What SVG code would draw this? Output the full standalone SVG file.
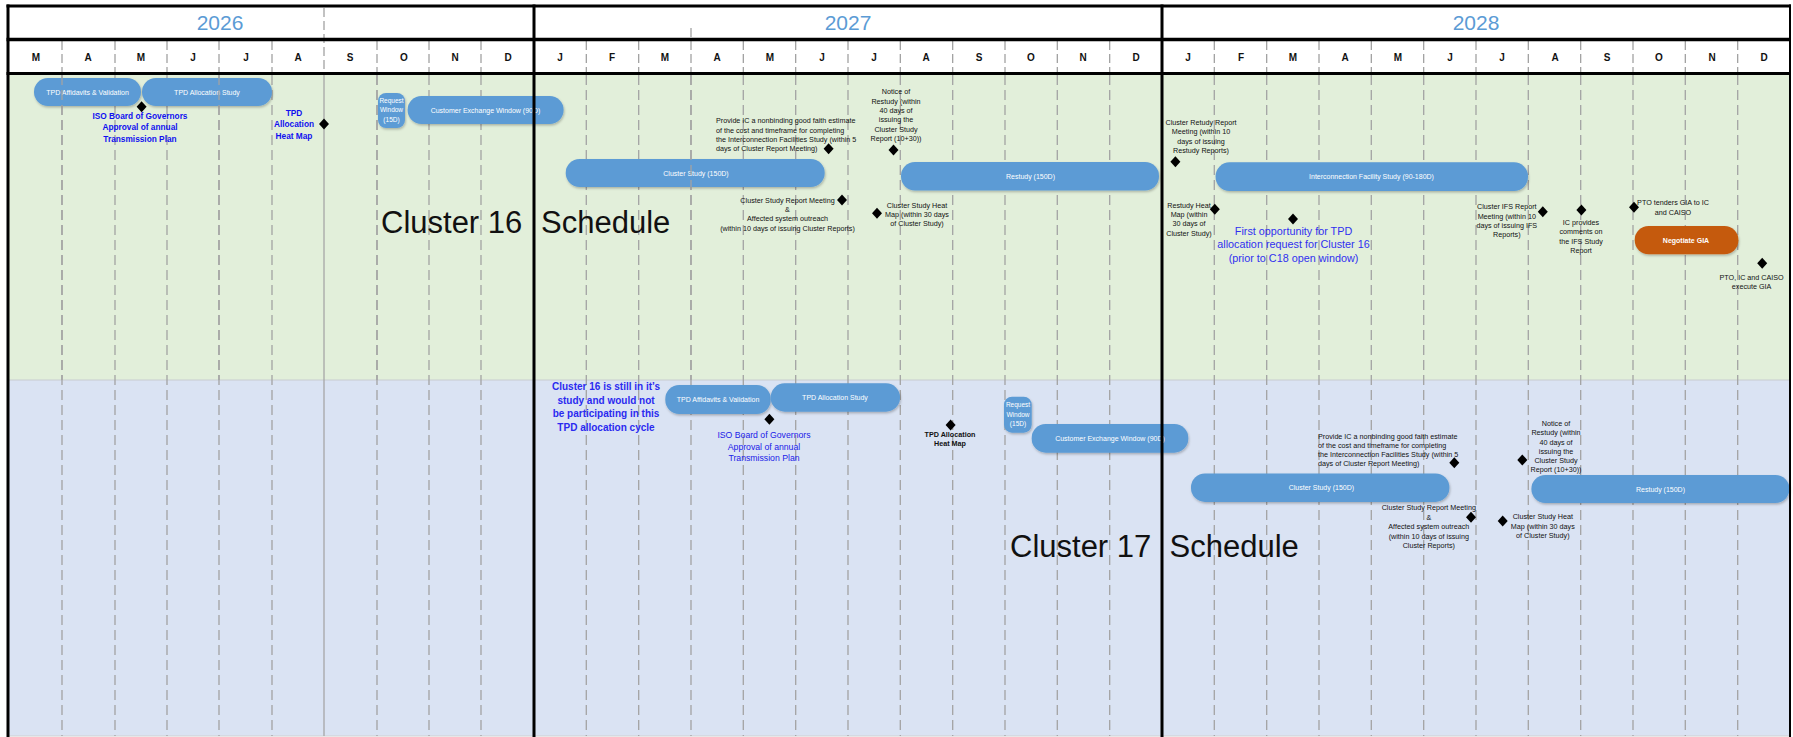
<svg xmlns="http://www.w3.org/2000/svg" xmlns:xlink="http://www.w3.org/1999/xlink" width="1793" height="737" viewBox="0 0 1793 737">
<style>
.yr{font-family:"Liberation Sans",Arial,sans-serif;font-size:21px;fill:#5B9BD5;text-anchor:middle}
.mo{font-family:"Liberation Sans",Arial,sans-serif;font-size:10px;font-weight:bold;fill:#111;text-anchor:middle}
.bar{fill:#5B9BD5;filter:url(#sh)}
.neg{fill:#C55A11;filter:url(#sh)}
.bt{font-family:"Liberation Sans",Arial,sans-serif;font-size:7px;fill:#fff;text-anchor:middle}
.bs{font-family:"Liberation Sans",Arial,sans-serif;font-size:6.5px;fill:#fff;text-anchor:middle}
.nb{font-family:"Liberation Sans",Arial,sans-serif;font-size:7px;font-weight:bold;fill:#fff;text-anchor:middle}
.an{font-family:"Liberation Sans",Arial,sans-serif;font-size:7.2px;fill:#111;text-anchor:middle}
.al{font-family:"Liberation Sans",Arial,sans-serif;font-size:7.2px;fill:#111}
.bb{font-family:"Liberation Sans",Arial,sans-serif;font-size:8.3px;font-weight:bold;fill:#1010F0;text-anchor:middle}
.br{font-family:"Liberation Sans",Arial,sans-serif;font-size:8.7px;fill:#2020E8;text-anchor:middle}
.bf{font-family:"Liberation Sans",Arial,sans-serif;font-size:10.8px;fill:#3030F0;text-anchor:middle}
.bc{font-family:"Liberation Sans",Arial,sans-serif;font-size:10px;font-weight:bold;fill:#2A2AF0;text-anchor:middle}
.big{font-family:"Liberation Sans",Arial,sans-serif;font-size:31px;fill:#111}
.g{stroke:#A3A3A3;stroke-width:1.3;stroke-dasharray:10 5;fill:none}
.gm{stroke:#9A9A9A;stroke-width:1.2;stroke-dasharray:9 4;fill:none}
.k{stroke:#000;fill:none}
</style>
<defs>
<filter id="sh" x="-10%" y="-30%" width="120%" height="170%">
<feDropShadow dx="0.8" dy="1.5" stdDeviation="1.2" flood-color="#000" flood-opacity="0.25"/>
</filter>
<path id="dia" d="M0,-5.5 L5,0 L0,5.5 L-5,0 Z" fill="#000"/>
</defs>

<g id="background">
<rect x="0" y="0" width="1793" height="737" fill="#fff"/>
<rect x="8" y="74" width="1782" height="306" fill="#E2EFDA"/>
<rect x="8" y="380" width="1782" height="356" fill="#DAE3F3"/>
<line x1="8" y1="380" x2="1790" y2="380" stroke="#C8CCD0" stroke-width="1"/>
<line x1="8" y1="736" x2="1790" y2="736" stroke="#D0D0D0" stroke-width="1"/>
</g>

<g id="grid">
<g class="gm">
<path d="M62,41V72M115,41V72M167,41V72M219,41V72M272,41V72M324,8V72M377,41V72M429,41V72M481,41V72"/>
<path d="M586.3,41V72M638.7,41V72M691,28V72M743.3,41V72M795.7,41V72M848,41V72M900.3,41V72M952.7,41V72M1005,41V72M1057.3,41V72M1109.7,41V72"/>
<path d="M1214.3,41V72M1266.7,41V72M1319,41V72M1371.3,41V72M1423.7,41V72M1476,41V72M1528.3,41V72M1580.7,41V72M1633,41V72M1685.3,41V72M1737.7,41V72"/>
</g>
<g class="g">
<path d="M62,75V736M115,75V736M167,75V736M219,75V736M272,75V736M377,75V736M429,75V736M481,75V736"/>
<path d="M586.3,75V736M638.7,75V736M691,75V736M743.3,75V736M795.7,75V736M848,75V736M900.3,75V736M952.7,75V736M1005,75V736M1057.3,75V736M1109.7,75V736"/>
<path d="M1214.3,75V736M1266.7,75V736M1319,75V736M1371.3,75V736M1423.7,75V736M1476,75V736M1528.3,75V736M1580.7,75V736M1633,75V736M1685.3,75V736M1737.7,75V736"/>
</g>
<line x1="324" y1="75" x2="324" y2="736" stroke="#A6A6A6" stroke-width="1.3"/>
</g>

<g id="header">
<text class="yr" x="220" y="30">2026</text>
<text class="yr" x="848" y="30">2027</text>
<text class="yr" x="1476" y="30">2028</text>
<g class="mo">
<text x="36" y="60.7">M</text><text x="88" y="60.7">A</text><text x="141" y="60.7">M</text><text x="193" y="60.7">J</text><text x="246" y="60.7">J</text><text x="298" y="60.7">A</text><text x="350" y="60.7">S</text><text x="404" y="60.7">O</text><text x="455" y="60.7">N</text><text x="508" y="60.7">D</text>
<text x="560" y="60.7">J</text><text x="612" y="60.7">F</text><text x="665" y="60.7">M</text><text x="717" y="60.7">A</text><text x="770" y="60.7">M</text><text x="822" y="60.7">J</text><text x="874" y="60.7">J</text><text x="926" y="60.7">A</text><text x="979" y="60.7">S</text><text x="1031" y="60.7">O</text><text x="1083" y="60.7">N</text><text x="1136" y="60.7">D</text>
<text x="1188" y="60.7">J</text><text x="1241" y="60.7">F</text><text x="1293" y="60.7">M</text><text x="1345" y="60.7">A</text><text x="1398" y="60.7">M</text><text x="1450" y="60.7">J</text><text x="1502" y="60.7">J</text><text x="1555" y="60.7">A</text><text x="1607" y="60.7">S</text><text x="1659" y="60.7">O</text><text x="1712" y="60.7">N</text><text x="1764" y="60.7">D</text>
</g>
</g>

<g id="connectors"></g>

<!-- Cluster 16 -->
<g id="c16-title"><text class="big" x="381" y="233">Cluster 16</text><text class="big" x="541" y="233">Schedule</text></g>
<g id="c16-tpd-affidavits"><rect class="bar" x="34" y="78" width="107" height="28" rx="14"/><text class="bt" x="87.5" y="94.5">TPD Affidavits &amp; Validation</text></g>
<g id="c16-tpd-allocation-study"><rect class="bar" x="142" y="78" width="130" height="28" rx="14"/><text class="bt" x="207" y="94.5">TPD Allocation Study</text></g>
<g id="c16-request-window"><rect class="bar" x="378" y="93" width="27" height="35" rx="8"/><text class="bs" x="391.5" y="103"><tspan x="391.5">Request</tspan><tspan x="391.5" dy="9.3">Window</tspan><tspan x="391.5" dy="9.3">(15D)</tspan></text></g>
<g id="c16-customer-exchange"><rect class="bar" x="407.6" y="96" width="156" height="28" rx="14"/><text class="bt" x="485.5" y="112.5">Customer Exchange Window (90D)</text></g>
<g id="c16-cluster-study"><rect class="bar" x="565.7" y="159" width="259" height="28" rx="14"/><text class="bt" x="696" y="175.5">Cluster Study (150D)</text></g>
<g id="c16-restudy"><rect class="bar" x="901" y="162" width="258" height="28.5" rx="14"/><text class="bt" x="1030.5" y="178.5">Restudy (150D)</text></g>
<g id="c16-ifs"><rect class="bar" x="1215.6" y="162.3" width="312.4" height="28.7" rx="14"/><text class="bt" x="1371.5" y="179.2">Interconnection Facility Study (90-180D)</text></g>
<g id="c16-negotiate-gia"><rect class="neg" x="1634.7" y="226" width="103.7" height="28.3" rx="14"/><text class="nb" x="1686" y="242.6">Negotiate GIA</text></g>

<g id="c16-iso-board"><use xlink:href="#dia" x="141.6" y="106.7"/><text class="bb" x="140" y="118.7"><tspan x="140">ISO Board of Governors</tspan><tspan x="140" dy="11.6">Approval of annual</tspan><tspan x="140" dy="11.6">Transmission Plan</tspan></text></g>
<g id="c16-tpd-heat-map"><use xlink:href="#dia" x="324" y="124"/><text class="bb" x="294" y="115.7"><tspan x="294">TPD</tspan><tspan x="294" dy="11.6">Allocation</tspan><tspan x="294" dy="11.6">Heat Map</tspan></text></g>
<g id="c16-provide-ic"><use xlink:href="#dia" x="828.6" y="148.7"/><text class="al" x="716" y="123.3"><tspan x="716">Provide IC a nonbinding good faith estimate</tspan><tspan x="716" dy="9.33">of the cost and timeframe for completing</tspan><tspan x="716" dy="9.33">the Interconnection Facilities Study (within 5</tspan><tspan x="716" dy="9.33">days of Cluster Report Meeting)</tspan></text></g>
<g id="c16-notice-restudy"><use xlink:href="#dia" x="893.5" y="150"/><text class="an" x="896" y="94.3"><tspan x="896">Notice of</tspan><tspan x="896" dy="9.33">Restudy (within</tspan><tspan x="896" dy="9.33">40 days of</tspan><tspan x="896" dy="9.33">issuing the</tspan><tspan x="896" dy="9.33">Cluster Study</tspan><tspan x="896" dy="9.33">Report (10+30))</tspan></text></g>
<g id="c16-report-meeting"><use xlink:href="#dia" x="842" y="200"/><text class="an" x="787.5" y="202.6"><tspan x="787.5">Cluster Study Report Meeting</tspan><tspan x="787.5" dy="9.33">&amp;</tspan><tspan x="787.5" dy="9.33">Affected system outreach</tspan><tspan x="787.5" dy="9.33">(within 10 days of issuing Cluster Reports)</tspan></text></g>
<g id="c16-study-heat-map"><use xlink:href="#dia" x="877" y="213.3"/><text class="an" x="917" y="207.6"><tspan x="917">Cluster Study Heat</tspan><tspan x="917" dy="9.33">Map (within 30 days</tspan><tspan x="917" dy="9.33">of Cluster Study)</tspan></text></g>
<g id="c16-restudy-meeting"><use xlink:href="#dia" x="1175.4" y="161.7"/><text class="an" x="1201" y="124.9"><tspan x="1201">Cluster Retudy Report</tspan><tspan x="1201" dy="9.33">Meeting (within 10</tspan><tspan x="1201" dy="9.33">days of issuing</tspan><tspan x="1201" dy="9.33">Restudy Reports)</tspan></text></g>
<g id="c16-restudy-heat-map"><use xlink:href="#dia" x="1214.8" y="209.3"/><text class="an" x="1189" y="207.6"><tspan x="1189">Restudy Heat</tspan><tspan x="1189" dy="9.33">Map (within</tspan><tspan x="1189" dy="9.33">30 days of</tspan><tspan x="1189" dy="9.33">Cluster Study)</tspan></text></g>
<g id="c16-first-opportunity"><use xlink:href="#dia" x="1293" y="219"/><text class="bf" x="1293.5" y="234.5"><tspan x="1293.5">First opportunity for TPD</tspan><tspan x="1293.5" dy="13.5">allocation request for Cluster 16</tspan><tspan x="1293.5" dy="13.5">(prior to C18 open window)</tspan></text></g>
<g id="c16-ifs-meeting"><use xlink:href="#dia" x="1542.8" y="211.7"/><text class="an" x="1506.8" y="209.3"><tspan x="1506.8">Cluster IFS Report</tspan><tspan x="1506.8" dy="9.33">Meeting (within 10</tspan><tspan x="1506.8" dy="9.33">days of issuing IFS</tspan><tspan x="1506.8" dy="9.33">Reports)</tspan></text></g>
<g id="c16-ic-comments"><use xlink:href="#dia" x="1581.4" y="210"/><text class="an" x="1581" y="224.9"><tspan x="1581">IC provides</tspan><tspan x="1581" dy="9.33">comments on</tspan><tspan x="1581" dy="9.33">the IFS Study</tspan><tspan x="1581" dy="9.33">Report</tspan></text></g>
<g id="c16-pto-tenders"><use xlink:href="#dia" x="1634" y="207.3"/><text class="an" x="1673" y="205.3"><tspan x="1673">PTO tenders GIA to IC</tspan><tspan x="1673" dy="10">and CAISO</tspan></text></g>
<g id="c16-execute-gia"><use xlink:href="#dia" x="1762.2" y="263.3"/><text class="an" x="1751.6" y="279.9"><tspan x="1751.6">PTO, IC and CAISO</tspan><tspan x="1751.6" dy="9.33">execute GIA</tspan></text></g>

<!-- quarter lines drawn over cluster 16 bars -->
<g id="quarter-lines" class="g"><path d="M62,75V380M219,75V380M377,75V380M691,75V380"/></g>

<!-- Cluster 17 -->
<g id="c17-title"><text class="big" x="1010" y="557">Cluster 17</text><text class="big" x="1169.5" y="557">Schedule</text></g>
<g id="c17-note"><text class="bc" x="606" y="390.2"><tspan x="606">Cluster 16 is still in it’s</tspan><tspan x="606" dy="13.5">study and would not</tspan><tspan x="606" dy="13.5">be participating in this</tspan><tspan x="606" dy="13.5">TPD allocation cycle</tspan></text></g>
<g id="c17-tpd-affidavits"><rect class="bar" x="665.3" y="385" width="105.4" height="29" rx="14"/><text class="bt" x="718" y="402">TPD Affidavits &amp; Validation</text></g>
<g id="c17-tpd-allocation-study"><rect class="bar" x="770.7" y="383.3" width="129.3" height="28.4" rx="14"/><text class="bt" x="835" y="400">TPD Allocation Study</text></g>
<g id="c17-iso-board"><use xlink:href="#dia" x="769.4" y="419.3"/><text class="br" x="764" y="438"><tspan x="764">ISO Board of Governors</tspan><tspan x="764" dy="11.7">Approval of annual</tspan><tspan x="764" dy="11.7">Transmission Plan</tspan></text></g>
<g id="c17-tpd-heat-map"><use xlink:href="#dia" x="950.6" y="425"/><text class="an" x="950" y="436.6" font-weight="bold"><tspan x="950">TPD Allocation</tspan><tspan x="950" dy="9.33">Heat Map</tspan></text></g>
<g id="c17-request-window"><rect class="bar" x="1004" y="396.7" width="27.7" height="36" rx="8"/><text class="bs" x="1018" y="407.4"><tspan x="1018">Request</tspan><tspan x="1018" dy="9.3">Window</tspan><tspan x="1018" dy="9.3">(15D)</tspan></text></g>
<g id="c17-customer-exchange"><rect class="bar" x="1031.7" y="424" width="156.6" height="28.7" rx="14"/><text class="bt" x="1110" y="440.8">Customer Exchange Window (90D)</text></g>
<g id="c17-cluster-study"><rect class="bar" x="1191" y="473.5" width="258.4" height="28.4" rx="14"/><text class="bt" x="1321.4" y="490.2">Cluster Study (150D)</text></g>
<g id="c17-restudy"><rect class="bar" x="1531.4" y="475" width="258" height="28" rx="14"/><text class="bt" x="1660.5" y="491.5">Restudy (150D)</text></g>
<g id="c17-provide-ic"><use xlink:href="#dia" x="1454.3" y="462.7"/><text class="al" x="1318" y="438.6"><tspan x="1318">Provide IC a nonbinding good faith estimate</tspan><tspan x="1318" dy="9.1">of the cost and timeframe for completing</tspan><tspan x="1318" dy="9.1">the Interconnection Facilities Study (within 5</tspan><tspan x="1318" dy="9.1">days of Cluster Report Meeting)</tspan></text></g>
<g id="c17-notice-restudy"><use xlink:href="#dia" x="1522.3" y="460"/><text class="an" x="1556" y="425.9"><tspan x="1556">Notice of</tspan><tspan x="1556" dy="9.3">Restudy (within</tspan><tspan x="1556" dy="9.3">40 days of</tspan><tspan x="1556" dy="9.3">issuing the</tspan><tspan x="1556" dy="9.3">Cluster Study</tspan><tspan x="1556" dy="9.3">Report (10+30))</tspan></text></g>
<g id="c17-report-meeting"><use xlink:href="#dia" x="1471" y="517.3"/><text class="an" x="1428.8" y="510.3"><tspan x="1428.8">Cluster Study Report Meeting</tspan><tspan x="1428.8" dy="9.4">&amp;</tspan><tspan x="1428.8" dy="9.4">Affected system outreach</tspan><tspan x="1428.8" dy="9.4">(within 10 days of issuing</tspan><tspan x="1428.8" dy="9.4">Cluster Reports)</tspan></text></g>
<g id="c17-study-heat-map"><use xlink:href="#dia" x="1502.7" y="521"/><text class="an" x="1542.8" y="519.3"><tspan x="1542.8">Cluster Study Heat</tspan><tspan x="1542.8" dy="9.33">Map (within 30 days</tspan><tspan x="1542.8" dy="9.33">of Cluster Study)</tspan></text></g>

<g id="frame" class="k">
<line x1="6.5" y1="6" x2="1791" y2="6" stroke-width="3"/>
<line x1="6.5" y1="39.5" x2="1791" y2="39.5" stroke-width="3.5"/>
<line x1="6.5" y1="73.5" x2="1791" y2="73.5" stroke-width="3"/>
<line x1="8" y1="4.5" x2="8" y2="737" stroke-width="3"/>
<line x1="1790" y1="4.5" x2="1790" y2="737" stroke-width="2"/>
<line x1="534" y1="4.5" x2="534" y2="737" stroke-width="3"/>
<line x1="1162" y1="4.5" x2="1162" y2="737" stroke-width="3"/>
</g>
</svg>
